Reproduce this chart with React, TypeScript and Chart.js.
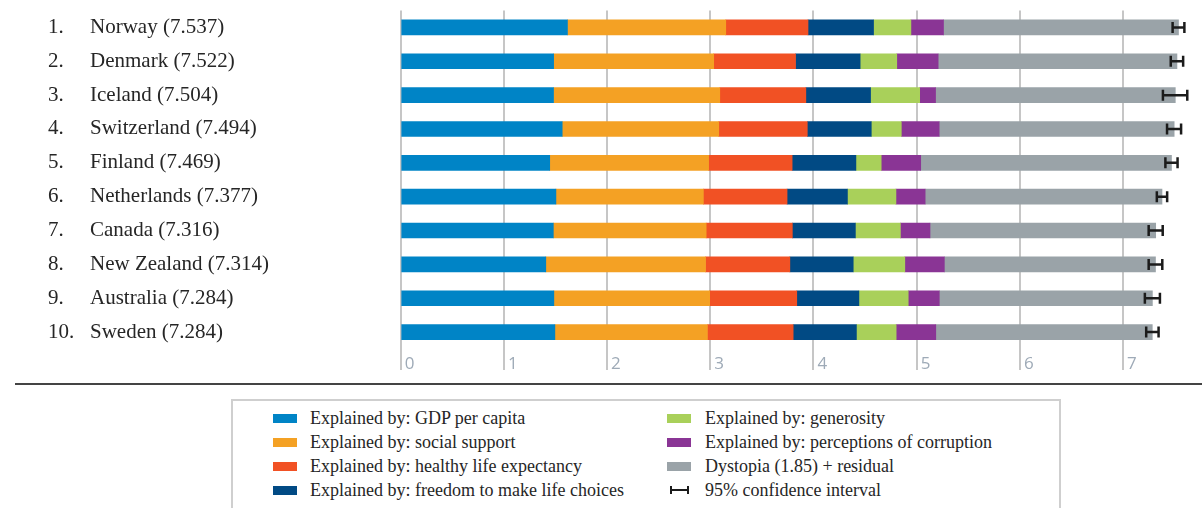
import React, { useEffect, useRef } from 'react';
import { Chart, registerables } from 'chart.js';

Chart.register(...registerables);

// ---- Data (World Happiness Report 2017, top 10) ----
const countries = ['Norway', 'Denmark', 'Iceland', 'Switzerland', 'Finland', 'Netherlands', 'Canada', 'New Zealand', 'Australia', 'Sweden'];
const scores = [7.537, 7.522, 7.504, 7.494, 7.469, 7.377, 7.316, 7.314, 7.284, 7.284];

const gdp = [1.616, 1.482, 1.481, 1.565, 1.444, 1.504, 1.479, 1.406, 1.484, 1.494];
const social = [1.534, 1.551, 1.611, 1.517, 1.540, 1.429, 1.481, 1.548, 1.510, 1.478];
const health = [0.797, 0.793, 0.834, 0.858, 0.809, 0.811, 0.835, 0.817, 0.844, 0.831];
const freedom = [0.635, 0.626, 0.627, 0.620, 0.618, 0.585, 0.611, 0.614, 0.602, 0.613];
const generosity = [0.362, 0.355, 0.476, 0.291, 0.245, 0.470, 0.436, 0.500, 0.478, 0.385];
const corruption = [0.316, 0.401, 0.154, 0.367, 0.383, 0.283, 0.287, 0.383, 0.301, 0.384];
const dystopia = [2.277, 2.314, 2.323, 2.277, 2.430, 2.295, 2.187, 2.046, 2.065, 2.098];

const ciLow = [7.480, 7.462, 7.386, 7.426, 7.410, 7.327, 7.248, 7.248, 7.211, 7.224];
const ciHigh = [7.594, 7.582, 7.622, 7.562, 7.528, 7.427, 7.384, 7.380, 7.357, 7.344];

const seriesNames = [
  'Explained by: GDP per capita',
  'Explained by: social support',
  'Explained by: healthy life expectancy',
  'Explained by: freedom to make life choices',
  'Explained by: generosity',
  'Explained by: perceptions of corruption',
  'Dystopia (1.85) + residual',
];
const seriesValues = [gdp, social, health, freedom, generosity, corruption, dystopia];
const seriesColors = ['#0084c6', '#f4a124', '#f15124', '#014a84', '#a9d05a', '#8a3595', '#9aa3a8'];
const ciLabel = '95% confidence interval';

const SERIF = "'Liberation Serif', 'Times New Roman', serif";
const TEXT = '#262626';

export default function App() {
  const ref = useRef<HTMLCanvasElement | null>(null);

  useEffect(() => {
    const canvas = ref.current;
    if (!canvas) return;

    const errorBars = {
      id: 'errorBars',
      afterDatasetsDraw(chart: any) {
        const { ctx, scales } = chart;
        const xs = scales.x;
        const ys = scales.y;
        ctx.save();
        ctx.strokeStyle = '#1b1b1b';
        ctx.lineWidth = 2.5;
        for (let i = 0; i < countries.length; i++) {
          const yc = ys.getPixelForValue(i);
          const x1 = xs.getPixelForValue(ciLow[i]);
          const x2 = xs.getPixelForValue(ciHigh[i]);
          ctx.beginPath();
          ctx.moveTo(x1, yc);
          ctx.lineTo(x2, yc);
          ctx.moveTo(x1, yc - 5.5);
          ctx.lineTo(x1, yc + 5.5);
          ctx.moveTo(x2, yc - 5.5);
          ctx.lineTo(x2, yc + 5.5);
          ctx.stroke();
        }
        ctx.restore();
      },
    };

    const ranks = {
      id: 'ranks',
      afterDraw(chart: any) {
        const { ctx, scales } = chart;
        const ys = scales.y;
        ctx.save();
        ctx.font = `21px ${SERIF}`;
        ctx.fillStyle = TEXT;
        ctx.textAlign = 'left';
        ctx.textBaseline = 'middle';
        for (let i = 0; i < countries.length; i++) {
          ctx.fillText(`${i + 1}.`, 48, ys.getPixelForValue(i));
        }
        ctx.restore();
      },
    };

    const chart = new Chart(canvas, {
      type: 'bar',
      data: {
        labels: countries,
        datasets: seriesValues.map((vals, k) => ({
          label: seriesNames[k],
          data: vals,
          backgroundColor: seriesColors[k],
          borderWidth: 0,
          barThickness: 15,
        })),
      },
      options: {
        indexAxis: 'y',
        responsive: false,
        animation: false,
        layout: { padding: { left: 90, top: 10.5, right: 17, bottom: 0 } },
        plugins: {
          legend: { display: false },
          tooltip: { enabled: false },
        },
        scales: {
          x: {
            type: 'linear',
            stacked: true,
            min: 0,
            max: 7.6,
            grid: {
              color: '#c6c6c6',
              lineWidth: 2,
              drawTicks: true,
              tickLength: 21,
              tickColor: '#c6c6c6',
              tickWidth: 2,
            },
            border: { display: false },
            ticks: {
              stepSize: 1,
              includeBounds: false,
              align: 'start',
              labelOffset: 4,
              padding: -16,
              color: '#9eaab7',
              font: { family: "'Open Sans', sans-serif", size: 17 },
            },
            afterFit: (s: any) => {
              s.height = 31;
              s.paddingLeft = 0;
              s.paddingRight = 0;
            },
          },
          y: {
            type: 'category',
            stacked: true,
            grid: { display: false },
            border: { display: false },
            ticks: {
              crossAlign: 'far',
              padding: 0,
              color: TEXT,
              font: { family: SERIF, size: 21 },
              callback: (_v: any, i: number) => `${countries[i]} (${scores[i].toFixed(3)})`,
            },
            afterFit: (s: any) => {
              s.width = 310.7;
              s.paddingTop = 0;
              s.paddingBottom = 0;
            },
          },
        },
      } as any,
      plugins: [errorBars, ranks],
    });

    return () => chart.destroy();
  }, []);

  const legendItems = [
    ...seriesNames.map((n, k) => ({ name: n, color: seriesColors[k], ci: false })),
    { name: ciLabel, color: '#1b1b1b', ci: true },
  ];

  return (
    <div
      style={{
        position: 'absolute',
        left: 0,
        top: 0,
        width: 1202,
        height: 508,
        overflow: 'hidden',
        background: '#ffffff',
      }}
    >
      <canvas ref={ref} width={1202} height={380} style={{ position: 'absolute', left: 0, top: 0, width: 1202, height: 380 }} />
      <div style={{ position: 'absolute', left: 15, top: 383, width: 1187, height: 2, background: '#444' }} />
      <div
        style={{
          position: 'absolute',
          left: 231,
          top: 399,
          width: 830,
          height: 140,
          border: '2px solid #cfcfcf',
          boxSizing: 'border-box',
        }}
      />
      {legendItems.map((it, k) => {
        const col = k < 4 ? 0 : 1;
        const row = k % 4;
        const cy = 418 + row * 24;
        const sx = col ? 667 : 273;
        const tx = col ? 705 : 310;
        return (
          <React.Fragment key={k}>
            {it.ci ? (
              <>
                <div style={{ position: 'absolute', left: sx + 3, top: cy - 1, width: 19, height: 2, background: it.color }} />
                <div style={{ position: 'absolute', left: sx + 3, top: cy - 4, width: 2, height: 8, background: it.color }} />
                <div style={{ position: 'absolute', left: sx + 20, top: cy - 4, width: 2, height: 8, background: it.color }} />
              </>
            ) : (
              <div style={{ position: 'absolute', left: sx, top: cy - 4.5, width: 24, height: 9, background: it.color }} />
            )}
            <div
              style={{
                position: 'absolute',
                left: tx,
                top: cy - 8.6,
                fontFamily: SERIF,
                fontSize: 18,
                lineHeight: '18px',
                color: TEXT,
                whiteSpace: 'nowrap',
              }}
            >
              {it.name}
            </div>
          </React.Fragment>
        );
      })}
    </div>
  );
}
